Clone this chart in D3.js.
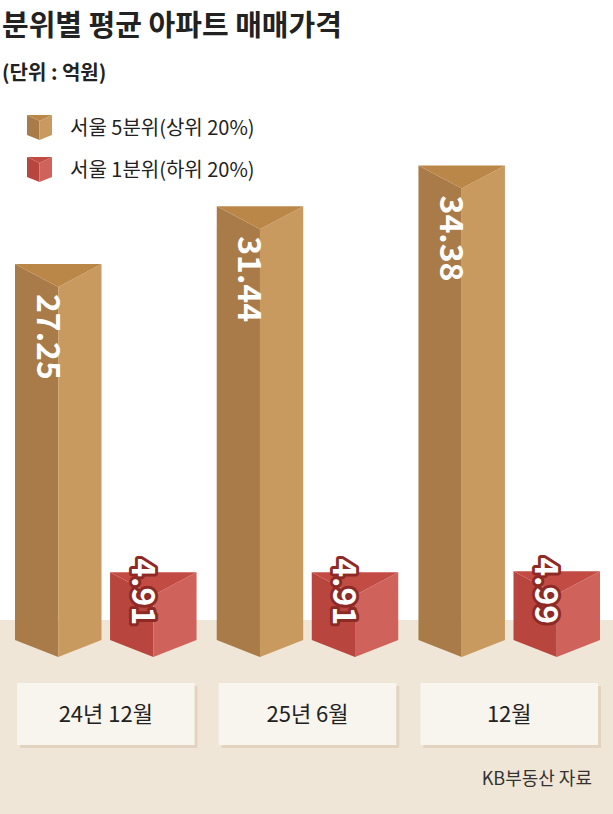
<!DOCTYPE html><html><head><meta charset="utf-8"><script src="https://cdn.jsdelivr.net/npm/d3@7"></script>
<style>body{margin:0;background:#fff}text{font-family:"Noto Sans CJK KR","Noto Sans",sans-serif}</style></head><body>
<svg id="c" width="613" height="814"></svg>
<script>
const categories=["24년 12월","25년 6월","12월"];
const top20=[27.25,31.44,34.38];
const bottom20=[4.91,4.91,4.99];
const seriesNames=["서울 5분위(상위 20%)","서울 1분위(하위 20%)"];
const svg=d3.select("#c");
svg.append("rect").attr("x",0).attr("y",620).attr("width",613).attr("height",194).attr("fill","#f0e6d7");
svg.append("text").attr("x",2).attr("y",36).attr("font-size",29).attr("font-weight",700).attr("fill","#222").text("분위별 평균 아파트 매매가격");
svg.append("text").attr("x",2).attr("y",80).attr("font-size",20).attr("font-weight",700).attr("fill","#222").text("(단위 : 억원)");
const pal=[{l:"#a87b48",r:"#c99a5f",t:"#bb8748",s:"#7a5428"},{l:"#b8453e",r:"#cf625b",t:"#c24c44",s:"#8e2a25"}];
seriesNames.forEach((n,i)=>{const y=115+i*42,x=27,w=25,h=25,g=svg.append("g");
 g.append("polygon").attr("points",`${x},${y} ${x+w/2},${y+6} ${x+w/2},${y+h} ${x},${y+h-5}`).attr("fill",pal[i].l);
 g.append("polygon").attr("points",`${x+w/2},${y+6} ${x+w},${y} ${x+w},${y+h-5} ${x+w/2},${y+h}`).attr("fill",pal[i].r);
 g.append("polygon").attr("points",`${x},${y} ${x+w},${y} ${x+w/2},${y+6}`).attr("fill",pal[i].t);
 g.append("text").attr("x",70).attr("y",y+20).attr("font-size",20).attr("fill","#222").text(n);});
const x0=d3.scaleBand().domain(categories).range([15,600]).paddingInner(0.1);
const x1=d3.scaleBand().domain([0,1]).range([0,x0.bandwidth()]).paddingInner(0.09);
const yBase=640,yApex=17;
const y=d3.scaleLinear().domain([0,35]).range([yBase,yBase-483]);
function bar(cx,w,v,p,small){const L=cx-w/2,R=cx+w/2,T=y(v),g=svg.append("g");
 g.append("polygon").attr("points",`${L},${T} ${cx},${T+yApex+6} ${cx},${yBase+yApex} ${L},${yBase}`).attr("fill",p.l);
 g.append("polygon").attr("points",`${cx},${T+yApex+6} ${R},${T} ${R},${yBase} ${cx},${yBase+yApex}`).attr("fill",p.r);
 g.append("polygon").attr("points",`${L},${T} ${R},${T} ${cx},${T+yApex+6}`).attr("fill",p.t);
 const ty=small?T-14:T+30;
 const t=g.append("text").attr("transform",`translate(${cx-13},${ty}) rotate(90)`).attr("font-size",32).attr("font-weight",700)
  .attr("font-family","Liberation Sans, Arial, sans-serif").attr("fill","#fff").attr("text-anchor","start").attr("dominant-baseline","middle").text(v.toFixed(2));
 if(small)t.attr("stroke",p.s).attr("stroke-width",6).attr("paint-order","stroke").attr("stroke-linejoin","round");}
categories.forEach((c,i)=>{const bx=x0(c);
 bar(bx+x1(0)+x1.bandwidth()/2,x1.bandwidth(),top20[i],pal[0],false);
 bar(bx+x1(1)+x1.bandwidth()/2,x1.bandwidth(),bottom20[i],pal[1],true);
 const lx=bx+2,lw=x0.bandwidth()-4;
 svg.append("rect").attr("x",lx+3).attr("y",686).attr("width",lw).attr("height",62).attr("fill","#e2d4c0");
 svg.append("rect").attr("x",lx).attr("y",683).attr("width",lw).attr("height",62).attr("fill","#f8f4ee");
 svg.append("text").attr("x",lx+lw/2).attr("y",722).attr("text-anchor","middle").attr("font-size",22).attr("fill","#222").text(c);});
svg.append("text").attr("x",592).attr("y",785).attr("text-anchor","end").attr("font-size",18).attr("fill","#333").text("KB부동산 자료");
</script></body></html>
